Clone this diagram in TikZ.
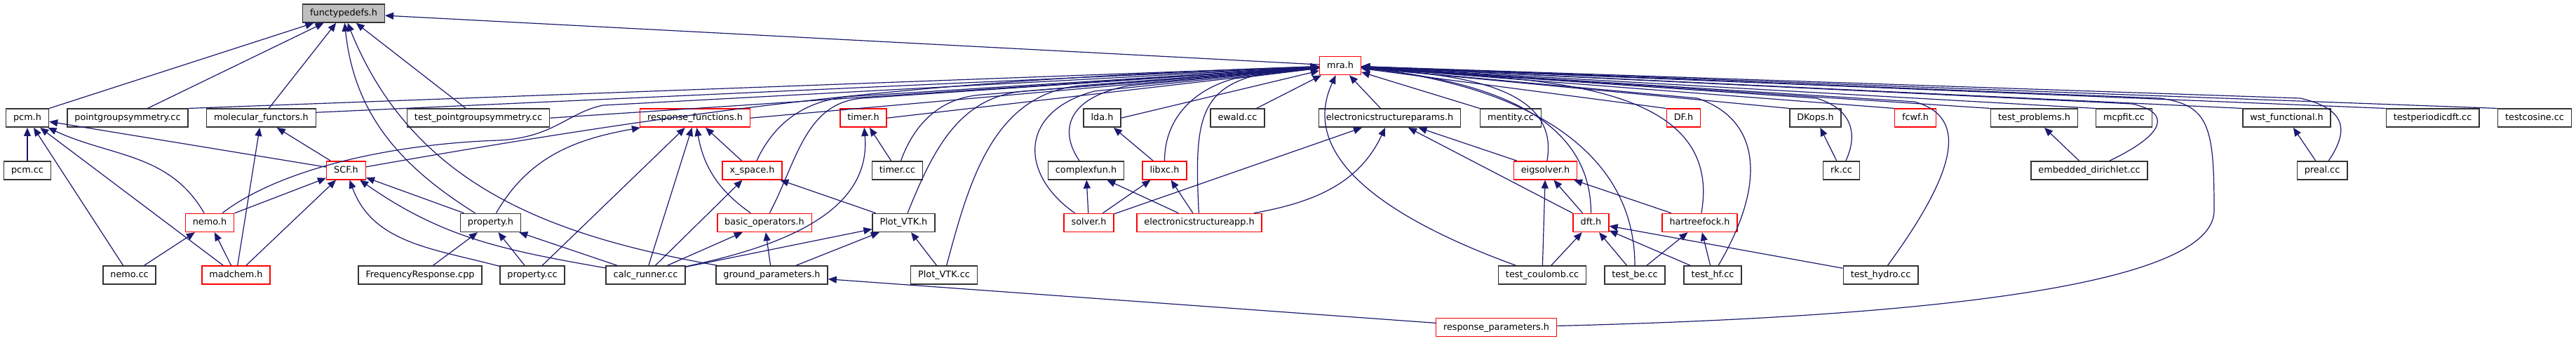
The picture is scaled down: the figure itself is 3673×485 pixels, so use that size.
\documentclass[tikz,border=0pt]{standalone}
\usepackage{fontspec}
\setmainfont{DejaVu Sans}
\usetikzlibrary{arrows.meta}
\definecolor{incblue}{HTML}{191970}

\begin{document}
\begin{tikzpicture}[
    x=0.25pt, y=0.25pt,
    file/.style={rectangle, draw=black!80, line width=0.38pt, fill=white, text=black, minimum height=6.5pt, inner xsep=2.625pt, inner ysep=0pt, text height=2.4pt, text depth=0.65pt, font=\fontsize{3.2}{3.8}\selectfont},
    partial/.style={file, draw=red},
    focus/.style={file, fill=gray!50},
    incl/.style={draw=incblue, line width=0.3pt, -{Triangle[length=3pt, width=2.5pt]}}
]
\useasboundingbox (0,0) rectangle (3673,-485);

% Included file
\node[focus] (fd) at (490,-19) {functypedefs.h};

% Rank 1
\node[partial] (mra) at (1911,-93.6) {mra.h};

% Rank 2
\node[file] (pcm) at (39,-168.2) {pcm.h};
\node[file] (pgs) at (182,-168.2) {pointgroupsymmetry.cc};
\node[file] (molf) at (372.5,-168.2) {molecular\_functors.h};
\node[file] (tpgs) at (682,-168.2) {test\_pointgroupsymmetry.cc};
\node[partial] (rf) at (991,-168.2) {response\_functions.h};
\node[partial] (timer) at (1231,-168.2) {timer.h};
\node[file] (lda) at (1571.5,-168.2) {lda.h};
\node[file] (ewald) at (1764.5,-168.2) {ewald.cc};
\node[file] (esp) at (1981.5,-168.2) {electronicstructureparams.h};
\node[file] (mentity) at (2154,-168.2) {mentity.cc};
\node[partial] (DF) at (2400.5,-168.2) {DF.h};
\node[file] (DKops) at (2588.5,-168.2) {DKops.h};
\node[partial] (fcwf) at (2731,-168.2) {fcwf.h};
\node[file] (tprob) at (2900.5,-168.2) {test\_problems.h};
\node[file] (mcpfit) at (3028.5,-168.2) {mcpfit.cc};
\node[file] (wst) at (3260.5,-168.2) {wst\_functional.h};
\node[file] (tpdft) at (3468.5,-168.2) {testperiodicdft.cc};
\node[file] (tcos) at (3614,-168.2) {testcosine.cc};

% Rank 3
\node[file] (pcmcc) at (39,-242.8) {pcm.cc};
\node[partial] (SCF) at (493.5,-242.8) {SCF.h};
\node[partial] (xspace) at (1072.5,-242.8) {x\_space.h};
\node[file] (timercc) at (1279.5,-242.8) {timer.cc};
\node[file] (cfun) at (1548.5,-242.8) {complexfun.h};
\node[partial] (libxc) at (1660.5,-242.8) {libxc.h};
\node[partial] (eig) at (2203.5,-242.8) {eigsolver.h};
\node[file] (rk) at (2625.5,-242.8) {rk.cc};
\node[file] (edir) at (2979,-242.8) {embedded\_dirichlet.cc};
\node[file] (preal) at (3311,-242.8) {preal.cc};

% Rank 4
\node[partial] (nemo) at (299,-317.4) {nemo.h};
\node[file] (proph) at (699.5,-317.4) {property.h};
\node[partial] (bops) at (1090,-317.4) {basic\_operators.h};
\node[file] (pvtk) at (1288.5,-317.4) {Plot\_VTK.h};
\node[partial] (solver) at (1552.5,-317.4) {solver.h};
\node[partial] (eapp) at (1710,-317.4) {electronicstructureapp.h};
\node[partial] (dft) at (2268.5,-317.4) {dft.h};
\node[partial] (hf) at (2423.5,-317.4) {hartreefock.h};

% Rank 5
\node[file] (nemocc) at (184.5,-392) {nemo.cc};
\node[partial] (madchem) at (336.5,-392) {madchem.h};
\node[file] (freq) at (599,-392) {FrequencyResponse.cpp};
\node[file] (propcc) at (759,-392) {property.cc};
\node[file] (calc) at (920.5,-392) {calc\_runner.cc};
\node[file] (gparams) at (1100.5,-392) {ground\_parameters.h};
\node[file] (pvtkcc) at (1346,-392) {Plot\_VTK.cc};
\node[file] (tcoul) at (2199,-392) {test\_coulomb.cc};
\node[file] (tbe) at (2331,-392) {test\_be.cc};
\node[file] (thf) at (2442,-392) {test\_hf.cc};
\node[file] (thydro) at (2681.5,-392) {test\_hydro.cc};

% Rank 6
\node[partial] (rparams) at (2133.5,-466.6) {response\_parameters.h};

% Includes of functypedefs.h
\draw[incl] (pcm.north east) -- (fd);
\draw[incl] (pgs) -- (fd);
\draw[incl] (molf) -- (fd);
\draw[incl] (tpgs) -- (fd);
\draw[incl] (proph) to[out=148,in=-84] (fd);
\draw[incl] (gparams) to[out=170,in=-68] (fd);
\draw[incl] (mra) -- (fd);

% Includes of mra.h - left side
\draw[incl] (pgs.north east) -- (mra);
\draw[incl] ([yshift=2pt]molf.east) -- (mra);
\draw[incl] (tpgs.east) -- (mra);
\draw[incl] (SCF) to[out=10,in=182] (mra);
\draw[incl] (nemo) .. controls (400,-240) and (560,-205) .. (711,-200) .. controls (790,-196) and (810,-160) .. (860,-150) -- (mra);
\draw[incl] (rf.east) -- (mra);
\draw[incl] (xspace) to[out=65,in=183] (1220,-137) -- (mra);
\draw[incl] (bops) to[out=62,in=184] (1230,-140) -- (mra);
\draw[incl] (timer.east) -- (mra);
\draw[incl] (timercc) to[out=70,in=184] (1400,-135) -- (mra);
\draw[incl] (pvtk) to[out=68,in=185] (1460,-130) -- (mra);
\draw[incl] (pvtkcc) to[out=75,in=186] (1540,-122) -- (mra);
\draw[incl] (lda.east) -- (mra);
\draw[incl] (cfun) .. controls (1512,-190) and (1516,-140) .. (1610,-122) -- (mra);
\draw[incl] (solver) .. controls (1455,-250) and (1450,-160) .. (1560,-130) -- (mra);
\draw[incl] (libxc) to[out=90,in=195] (1760,-112) -- (mra);
\draw[incl] (eapp) .. controls (1703,-175) and (1708,-125) .. (1800,-105) -- (mra);
\draw[incl] (ewald) -- (mra);
\draw[incl] (esp) -- (mra);
\draw[incl] (tcoul) to[out=160,in=-115] (mra);

% Includes of mra.h - right side
\draw[incl] (mentity.north west) -- (mra);
\draw[incl] (eig) to[out=80,in=-5] (mra);
\draw[incl] (dft) to[out=90,in=-6] (mra);
\draw[incl] (tbe) to[out=90,in=-6] (mra);
\draw[incl] (hf) to[out=80,in=-5] (mra);
\draw[incl] (thf) .. controls (2520,-260) and (2510,-170) .. (2420,-140) -- (mra);
\draw[incl] (DF.north west) -- (mra);
\draw[incl] (DKops.north west) -- (mra);
\draw[incl] (rk) .. controls (2650,-190) and (2640,-155) .. (2590,-140) -- (mra);
\draw[incl] (fcwf.north west) -- (mra);
\draw[incl] (tprob.north west) -- (mra);
\draw[incl] (thydro) .. controls (2800,-230) and (2800,-165) .. (2730,-145) -- (mra);
\draw[incl] (mcpfit.north west) -- (mra);
\draw[incl] (edir) .. controls (3090,-190) and (3095,-160) .. (3040,-148) -- (mra);
\draw[incl] (wst.north west) -- (mra);
\draw[incl] (preal) .. controls (3350,-185) and (3345,-155) .. (3280,-140) -- (mra);
\draw[incl] (tpdft.north west) -- (mra);
\draw[incl] (tcos.north west) -- (mra);
\draw[incl] (rparams) .. controls (2800,-450) and (3157,-400) .. (3157,-300) .. controls (3157,-180) and (3150,-150) .. (3080,-140) -- (mra);

% pcm.h, molecular_functors.h, SCF.h, nemo.h
\draw[incl] (pcmcc) -- (pcm);
\draw[incl] (nemocc) -- (pcm);
\draw[incl] (madchem) -- (pcm);
\draw[incl] (nemo) to[out=120,in=-25] (pcm);
\draw[incl] (SCF) -- (pcm);
\draw[incl] (madchem) -- (molf);
\draw[incl] (SCF) -- (molf);
\draw[incl] (nemo) -- (SCF);
\draw[incl] (madchem) -- (SCF);
\draw[incl] (proph) -- (SCF);
\draw[incl] (propcc) to[out=165,in=-70] (SCF);
\draw[incl] (calc) to[out=170,in=-35] (SCF);
\draw[incl] (nemocc) -- (nemo);
\draw[incl] (madchem) -- (nemo);

% Response code
\draw[incl] (proph) to[out=60,in=190] (rf);
\draw[incl] (propcc) -- (rf);
\draw[incl] (calc) -- (rf);
\draw[incl] (bops) to[out=145,in=-80] (rf);
\draw[incl] (xspace) -- (rf);
\draw[incl] (calc) -- (xspace);
\draw[incl] (pvtk) -- (xspace);
\draw[incl] (calc) -- (bops);
\draw[incl] (gparams) -- (bops);
\draw[incl] (freq) -- (proph);
\draw[incl] (propcc) -- (proph);
\draw[incl] (calc) -- (proph);
\draw[incl] (calc) -- (pvtk);
\draw[incl] (gparams) -- (pvtk);
\draw[incl] (pvtkcc) -- (pvtk);
\draw[incl] (calc) to[out=12,in=-85] (timer);
\draw[incl] (timercc) -- (timer);
\draw[incl] (rparams) -- (gparams);

% Electronic structure code
\draw[incl] (libxc) -- (lda);
\draw[incl] (solver) -- (cfun);
\draw[incl] (solver) -- (libxc);
\draw[incl] (solver) -- (esp);
\draw[incl] (eapp) -- (cfun);
\draw[incl] (eapp) -- (libxc);
\draw[incl] (eapp) to[out=10,in=-115] (esp);
\draw[incl] (eig) -- (esp);
\draw[incl] (dft) -- (esp);
\draw[incl] (dft) -- (eig);
\draw[incl] (hf) -- (eig);
\draw[incl] (tcoul) -- (eig);
\draw[incl] (tcoul) -- (dft);
\draw[incl] (tbe) -- (dft);
\draw[incl] (tbe) -- (hf);
\draw[incl] (thf) -- (dft);
\draw[incl] (thf) -- (hf);
\draw[incl] (thydro) -- (dft);

% Test programs
\draw[incl] (rk) -- (DKops);
\draw[incl] (edir) -- (tprob);
\draw[incl] (preal) -- (wst);

\end{tikzpicture}
\end{document}
